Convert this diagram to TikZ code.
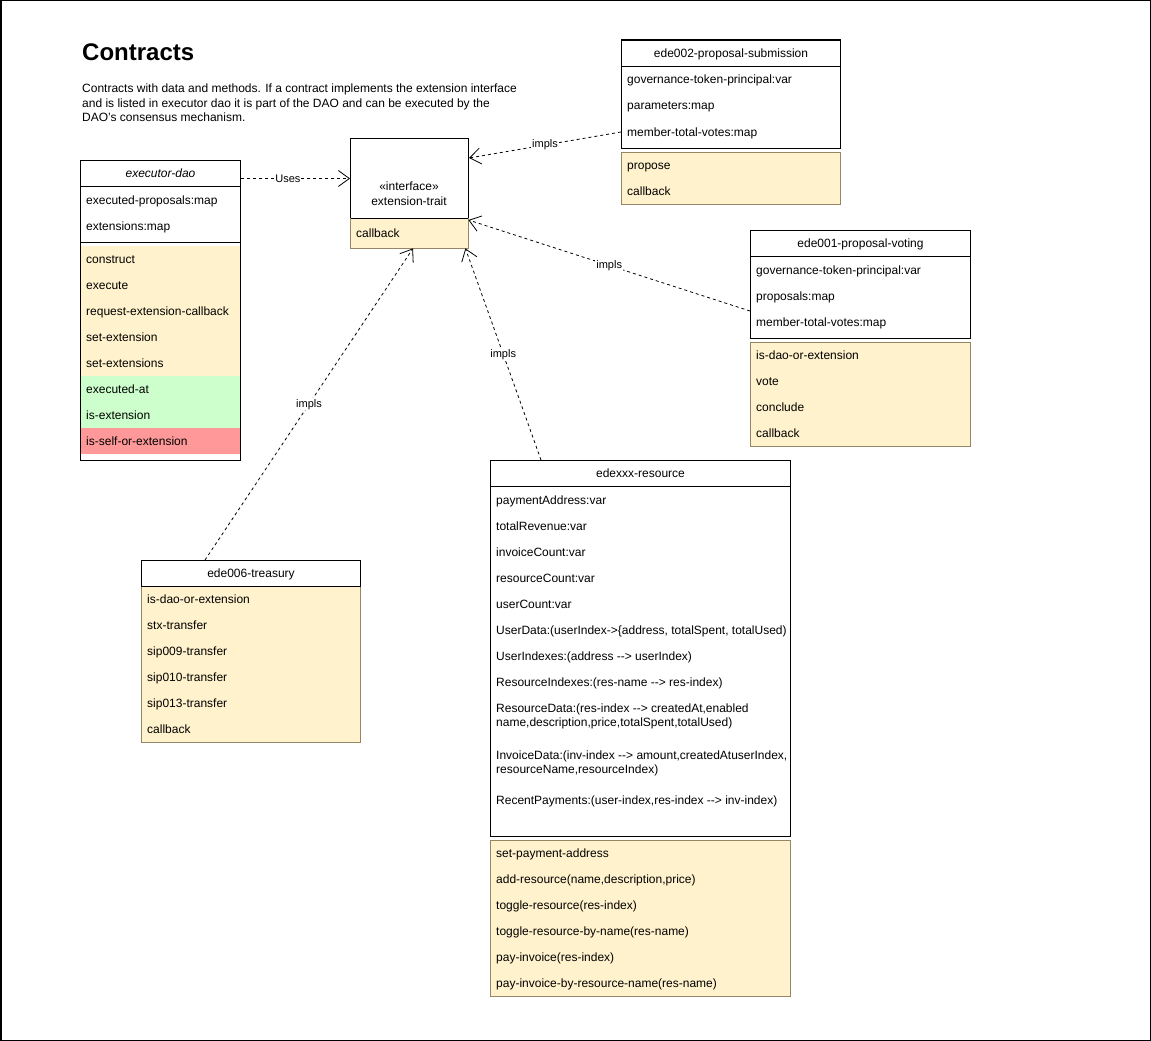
\documentclass[tikz,border=0pt]{standalone}
\usepackage{fontspec}
\setmainfont{Liberation Sans}
\usetikzlibrary{arrows.meta}
\usetikzlibrary{calc}
\definecolor{methfill}{RGB}{255,242,204}
\definecolor{methline}{RGB}{150,135,100}
\definecolor{okfill}{RGB}{204,255,204}
\definecolor{badfill}{RGB}{255,153,153}
\newcommand{\fs}{\fontsize{12}{13.5}\selectfont}
\tikzset{
  umlhead/.style={draw, line width=1pt, anchor=north west, minimum height=26pt, inner sep=0pt, text height=10pt, text depth=2pt, font=\fs},
  umlattr/.style={anchor=west, inner sep=0pt, text height=10pt, text depth=2pt, font=\fs},
  umlattrs/.style={anchor=west, inner sep=0pt, align=left, font=\fs},
  umlmeth/.style={anchor=north west, minimum height=26pt, inner xsep=6pt, inner ysep=0pt, text height=10pt, text depth=2pt, align=left, font=\fs, fill=methfill},
  umlframe/.style={draw, line width=1pt},
  methframe/.style={draw=methline, line width=1pt},
  impl/.style={draw, dash pattern=on 3pt off 3pt, line width=0.8pt, -{Straight Barb[length=11pt,width=16pt]}},
  lbl/.style={fill=white, inner sep=1pt, font=\fontsize{11}{12}\selectfont}
}
\begin{document}
\begin{tikzpicture}[x=1pt,y=-1pt]
      \useasboundingbox (0,0) rectangle (1151,1041);
      \draw[line width=1.5pt] (0.75,0.75) rectangle (1150.25,1040.25);
      % title
      \node[anchor=base west, inner sep=0pt, font=\fontsize{24}{28}\selectfont\bfseries] (title) at (82,60) {Contracts};
      \node[anchor=north west, inner sep=0pt, align=left, font=\fontsize{12}{14.5}\selectfont] (intro) at (82,84)
        {Contracts with data and methods. If a contract implements the extension interface\\
         and is listed in executor dao it is part of the DAO and can be executed by the\\
         DAO's consensus mechanism.};
      % executor-dao
      \node[umlmeth, text width=148pt]               (daoconstruct) at (80,246) {construct};
      \node[umlmeth, text width=148pt]               (daoexecute)   at (80,272) {execute};
      \node[umlmeth, text width=148pt]               (daorequest)   at (80,298) {request-extension-callback};
      \node[umlmeth, text width=148pt]               (daoset)       at (80,324) {set-extension};
      \node[umlmeth, text width=148pt]               (daosets)      at (80,350) {set-extensions};
      \node[umlmeth, text width=148pt, fill=okfill]  (daoexecat)    at (80,376) {executed-at};
      \node[umlmeth, text width=148pt, fill=okfill]  (daoisext)     at (80,402) {is-extension};
      \node[umlmeth, text width=148pt, fill=badfill] (daoisself)    at (80,428) {is-self-or-extension};
      \node[umlhead, minimum width=160pt] (dao) at (80,160) {\textit{executor-dao}};
      \node[umlattr] (daoproposals)  at (86,200) {executed-proposals:map};
      \node[umlattr] (daoextensions) at (86,226) {extensions:map};
      \draw[umlframe] (80,160) rectangle (240,460);
      \draw[umlframe] (80,242) -- (240,242);
      % extension-trait
      \node[umlmeth, text width=106pt, minimum height=30pt] (traitcallback) at (350,218) {callback};
      \node[draw, line width=1pt, anchor=north west, minimum width=118pt, minimum height=80pt, inner sep=0pt] (trait) at (350,138) {};
      \node[align=center, inner sep=0pt, font=\fontsize{12}{15}\selectfont] (traitname) at (409,193.5) {«interface»\\extension-trait};
      \draw[methframe] (traitcallback.north west) -- (traitcallback.south west) -- (traitcallback.south east) -- (traitcallback.north east);
      % ede002-proposal-submission
      \node[umlhead, minimum width=219pt] (ede002) at (621,40) {ede002-proposal-submission};
      \node[umlattr] (e2token)  at (627,80)  {governance-token-principal:var};
      \node[umlattr] (e2params) at (627,106) {parameters:map};
      \node[umlattr] (e2votes)  at (627,132) {member-total-votes:map};
      \draw[umlframe] (621,40) rectangle (840,148);
      \node[umlmeth, text width=207pt] (e2propose)  at (621,152) {propose};
      \node[umlmeth, text width=207pt] (e2callback) at (621,178) {callback};
      \draw[methframe] (e2propose.north west) rectangle (e2callback.south east);
      % ede001-proposal-voting
      \node[umlhead, minimum width=220pt] (ede001) at (750,230) {ede001-proposal-voting};
      \node[umlattr] (e1token)     at (756,270) {governance-token-principal:var};
      \node[umlattr] (e1proposals) at (756,296) {proposals:map};
      \node[umlattr] (e1votes)     at (756,322) {member-total-votes:map};
      \draw[umlframe] (750,230) rectangle (970,338);
      \node[umlmeth, text width=208pt] (e1isdao)    at (750,342) {is-dao-or-extension};
      \node[umlmeth, text width=208pt] (e1vote)     at (750,368) {vote};
      \node[umlmeth, text width=208pt] (e1conclude) at (750,394) {conclude};
      \node[umlmeth, text width=208pt] (e1callback) at (750,420) {callback};
      \draw[methframe] (e1isdao.north west) rectangle (e1callback.south east);
      % ede006-treasury
      \node[umlmeth, text width=207pt] (e6isdao)    at (141,586) {is-dao-or-extension};
      \node[umlmeth, text width=207pt] (e6stx)      at (141,612) {stx-transfer};
      \node[umlmeth, text width=207pt] (e6sip009)   at (141,638) {sip009-transfer};
      \node[umlmeth, text width=207pt] (e6sip010)   at (141,664) {sip010-transfer};
      \node[umlmeth, text width=207pt] (e6sip013)   at (141,690) {sip013-transfer};
      \node[umlmeth, text width=207pt] (e6callback) at (141,716) {callback};
      \draw[methframe] (e6isdao.north west) rectangle (e6callback.south east);
      \node[umlhead, minimum width=219pt] (ede006) at (141,560) {ede006-treasury};
      % edexxx-resource
      \node[umlhead, minimum width=300pt] (res) at (490,460) {edexxx-resource};
      \node[umlattr] (rpayaddr)   at (496,500) {paymentAddress:var};
      \node[umlattr] (rrevenue)   at (496,526) {totalRevenue:var};
      \node[umlattr] (rinvcount)  at (496,552) {invoiceCount:var};
      \node[umlattr] (rrescount)  at (496,578) {resourceCount:var};
      \node[umlattr] (rusercount) at (496,604) {userCount:var};
      \node[umlattr] (ruserdata)  at (496,630) {UserData:(userIndex->\{address, totalSpent, totalUsed)};
      \node[umlattr] (ruseridx)   at (496,656) {UserIndexes:(address -{}-> userIndex)};
      \node[umlattr] (rresidx)    at (496,682) {ResourceIndexes:(res-name -{}-> res-index)};
      \node[umlattrs] (rresdata)  at (496,716.5) {ResourceData:(res-index -{}-> createdAt,enabled\\name,description,price,totalSpent,totalUsed)};
      \node[umlattrs] (rinvdata)  at (496,763.5) {InvoiceData:(inv-index -{}-> amount,createdAtuserIndex,\\resourceName,resourceIndex)};
      \node[umlattr] (rrecent)    at (496,800) {RecentPayments:(user-index,res-index -{}-> inv-index)};
      \draw[umlframe] (490,460) rectangle (790,836);
      \node[umlmeth, text width=288pt] (rsetpay)     at (490,840) {set-payment-address};
      \node[umlmeth, text width=288pt] (raddres)     at (490,866) {add-resource(name,description,price)};
      \node[umlmeth, text width=288pt] (rtoggle)     at (490,892) {toggle-resource(res-index)};
      \node[umlmeth, text width=288pt] (rtogglename) at (490,918) {toggle-resource-by-name(res-name)};
      \node[umlmeth, text width=288pt] (rpay)        at (490,944) {pay-invoice(res-index)};
      \node[umlmeth, text width=288pt] (rpayname)    at (490,970) {pay-invoice-by-resource-name(res-name)};
      \draw[methframe] (rsetpay.north west) rectangle (rpayname.south east);
      % connectors
      \draw[impl] (dao.east |- trait.west) -- node[lbl, pos=0.43] {Uses} (trait.west);
      \draw[impl] (ede002.west |- e2votes.west) -- node[lbl] {impls} ($(trait.north east)+(0,20)$);
      \draw[impl] ($(ede001.north west)+(0,81)$) -- node[lbl] {impls} ($(traitcallback.north east)+(0,2)$);
      \draw[impl] ($(res.north west)+(51,0)$) -- node[lbl] {impls} ($(traitcallback.south east)+(-3,0)$);
      \draw[impl] ($(ede006.north west)+(64,0)$) -- node[lbl] {impls} ($(traitcallback.south west)+(63,0)$);
    \end{tikzpicture}
\end{document}
